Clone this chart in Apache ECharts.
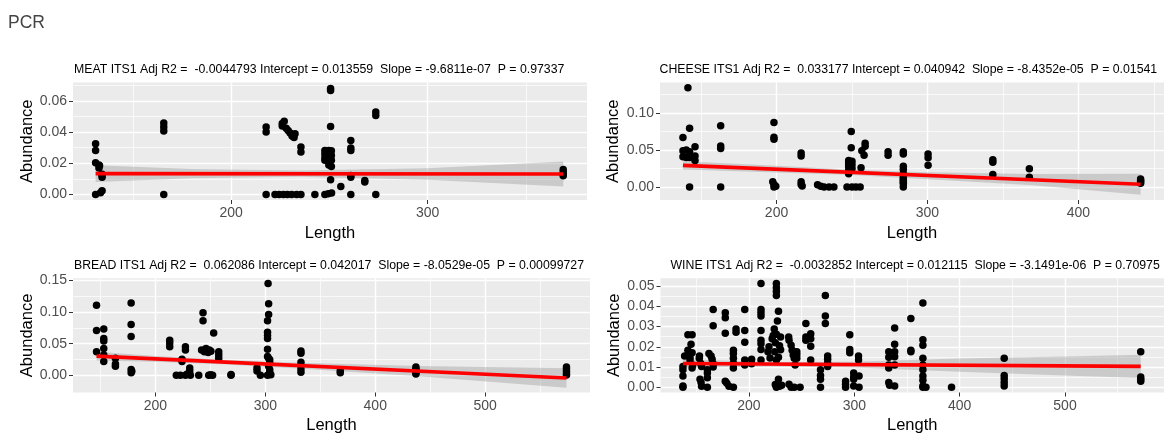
<!DOCTYPE html>
<html><head><meta charset="utf-8">
<script src="https://cdn.jsdelivr.net/npm/echarts@6/dist/echarts.min.js"></script>
<style>html,body{margin:0;padding:0;background:#fff}#c{width:1164px;height:435px}</style>
</head><body><div id="c"></div>
<script>
const FONT = '"Liberation Sans", Arial, Helvetica, sans-serif';
const pageTitle = 'PCR';
const xName = 'Length';
const yName = 'Abundance';

// ---------- MEAT ----------
const meatTitle = 'MEAT ITS1 Adj R2 =  -0.0044793 Intercept = 0.013559  Slope = -9.6811e-07  P = 0.97337';
const meatPoints = [
  [131,0.0325],[131,0.0283],[131,0.0203],[131,0.0],
  [132.7,0.019],[132.7,0.017],[133,0.0185],
  [134.3,0.013],[134.3,0.011],[134.3,0.0125],[134.3,0.0025],[133.5,0.0012],
  [165.7,0.0458],[165.7,0.0433],[165.7,0.0407],[165.7,0.0],
  [217.8,0.0433],[217.8,0.040],[217.8,0.0],
  [226,0.0455],[226,0.0440],[227,0.047],[228,0.0425],[229,0.041],[230,0.0395],[231,0.0375],[232,0.0365],[232.5,0.039],
  [222.3,0],[224.4,0],[226.6,0],[228.6,0],[230.8,0],[233.3,0],[235.5,0],
  [235.5,0.0304],[235.5,0.0272],
  [242.6,0],
  [247.7,0.0283],[247.7,0.026],[247.7,0.0235],[247.7,0.022],
  [249.7,0.0283],[249.7,0.026],[249.7,0.024],[249.7,0.021],[249.7,0.019],
  [251,0.028],[251,0.025],[251,0.022],[251,0.018],
  [250.6,0.0680],[250.6,0.0667],[250.6,0.0436],[250.6,0.0095],
  [247.7,0],[249.4,0.0005],[251.1,0.001],
  [255.8,0.0051],
  [260.9,0.0347],[260.9,0.0298],[260.9,0.0283],[260.9,0.0122],[260.9,0.011],[260.9,0],
  [268,0.009],[268,0.008],
  [273.6,0.0529],[273.6,0.0507],[273.6,0],
  [369,0.016],[369,0.0145],[369,0.013],[369,0.012]
];
const meatFitX = [131, 369];
const meatFitY = [0.0134, 0.0132];
const meatBandX = [131, 180, 235, 300, 369];
const meatBandLo = [0.0080, 0.0104, 0.0114, 0.0095, 0.0052];
const meatBandHi = [0.0188, 0.0164, 0.0154, 0.0169, 0.0212];
const meatXRange = [119.5, 381.1];
const meatYRange = [-0.0035, 0.0718];
const meatXTicks = [200, 300];
const meatXMinor = [150, 250, 350];
const meatYTicks = [0, 0.02, 0.04, 0.06];
const meatYMinor = [0.01, 0.03, 0.05, 0.07];

// ---------- CHEESE ----------
const cheeseTitle = 'CHEESE ITS1 Adj R2 =  0.033177 Intercept = 0.040942  Slope = -8.4352e-05  P = 0.01541';
const cheesePoints = [
  [141.3,0.134],
  [138,0.0668],[138,0.049],[138,0.041],
  [140.2,0.050],[140.2,0.040],
  [142.4,0.0795],[142.4,0.0477],[142.4,0.040],[142.4,0],
  [146,0.0545],[146,0.042],[146,0.036],
  [163,0.0827],[163,0.0555],[163,0.052],[163,0],
  [198.3,0.0873],[198.3,0.0673],[198.3,0.0645],[197.5,0.007],[198.3,0.0036],[198.3,0],[199.5,0.001],
  [216.3,0.046],[216.3,0.042],[216.3,0.007],[216.3,0.0036],[217,0.0015],
  [227.2,0.003],[229.3,0.001],[231.5,0],[234.8,0],[238,0],
  [249.5,0.075],[249.5,0.053],
  [247.8,0.036],[247.8,0.033],[247.8,0.030],[247.8,0.027],[247.8,0.022],[247.8,0.018],
  [250,0.035],[250,0.030],[250,0.025],
  [246.7,0],[250,0],[252.6,0],[255.4,0],
  [256,0.026],
  [258.7,0.059],[258.7,0.055],[256.5,0.049],[258,0.043],
  [273.9,0.0477],[273.9,0.043],
  [284,0.0477],[284,0.0445],[284,0.028],[284,0.0236],[284,0.018],[284,0.0136],[284,0.009],[284,0.0045],[284,0],[284,0.0065],[284,0.011],
  [300.4,0.0445],[300.4,0.0395],[300.4,0.0295],
  [343.3,0.037],[343.3,0.0335],[343.3,0.017],
  [367.5,0.0248],[367.5,0.0133],
  [441.2,0.011],[441.2,0.009],[441.2,0.007],[441.2,0.005]
];
const cheeseFitX = [138, 441.2];
const cheeseFitY = [0.0293, 0.0037];
const cheeseBandX = [138, 200, 250, 300, 370, 441.2];
const cheeseBandLo = [0.0236, 0.0196, 0.0163, 0.0105, 0.0025, -0.0105];
const cheeseBandHi = [0.0350, 0.0286, 0.0235, 0.0200, 0.0175, 0.0180];
const cheeseXRange = [122.8, 456.7];
const cheeseYRange = [-0.0175, 0.1412];
const cheeseXTicks = [200, 300, 400];
const cheeseXMinor = [150, 250, 350, 450];
const cheeseYTicks = [0, 0.05, 0.10];
const cheeseYMinor = [0.025, 0.075, 0.125];

// ---------- BREAD ----------
const breadTitle = 'BREAD ITS1 Adj R2 =  0.062086 Intercept = 0.042017  Slope = -8.0529e-05  P = 0.00099727';
const breadPoints = [
  [146.4,0.1106],[146.4,0.0707],[146.4,0.0374],
  [153,0.0732],[153,0.058],[153,0.0543],[153,0.0425],[153,0.032],[153,0.022],
  [163.6,0.027],[163.6,0.018],[163.6,0.0143],
  [177.9,0.1142],[177.9,0.080],[177.9,0.0614],[177.9,0.0092],[177.9,0.004],[178.5,0.0065],
  [213,0.0553],[213,0.051],[213,0.045],
  [219,0],[222.7,0],[227.3,0],[231.8,0],[229,0.002],
  [224.2,0.0256],[224.2,0.022],
  [227.3,0.045],[227.3,0.040],
  [231.2,0.0118],[231.2,0.0067],
  [239.4,0],
  [243.3,0.0988],[243.3,0.086],
  [242,0.040],[244.5,0.0374],[246,0.0425],[248,0.036],[249,0.040],[250.5,0.038],
  [253,0.0666],
  [248.5,0],[252,0],[250.2,0.001],
  [257.6,0.0374],[257.6,0.032],[257.6,0.027],
  [268.8,0.0015],[268.8,0],
  [292.4,0.0118],[292.4,0.0067],
  [295.5,0],
  [302.5,0.145],[303,0.113],[303,0.096],[302,0.086],[302,0.068],[302,0.063],[302,0.058],[302,0.041],[302,0.0297],[303,0.027],[304,0.0246],[304,0.0195],[303,0.0143],[304,0.009],[304,0.004],[302,0],[305,0.001],
  [332.4,0.0384],[332.4,0.035],[332.4,0.0205],[332.4,0.0102],[332.4,0.005],
  [368.2,0.0067],[368.2,0.004],
  [437,0.013],[437,0.010],[437,0.008],[437,0.006],[437,0.004],[437,0.002],
  [574,0.013],[574,0.010],[574,0.006],[574,0.002],[574,0.0005]
];
const breadFitX = [146.4, 574];
const breadFitY = [0.0303, -0.0042];
const breadBandX = [146.4, 200, 260, 330, 440, 574];
const breadBandLo = [0.0233, 0.0214, 0.0176, 0.0109, -0.0014, -0.0197];
const breadBandHi = [0.0373, 0.0304, 0.0246, 0.0199, 0.0146, 0.0113];
const breadXRange = [125, 595.4];
const breadYRange = [-0.027, 0.153];
const breadXTicks = [200, 300, 400, 500];
const breadXMinor = [150, 250, 350, 450, 550];
const breadYTicks = [0, 0.05, 0.10, 0.15];
const breadYMinor = [0.025, 0.075, 0.125];

// ---------- WINE ----------
const wineTitle = 'WINE ITS1 Adj R2 =  -0.0032852 Intercept = 0.012115  Slope = -3.1491e-06  P = 0.70975';
const winePoints = [
  [137.3,0.0103],[137.3,0.0087],[137.3,0.0055],[137.3,0.0006],[137.3,0],[138.9,0.0154],
  [142,0.0259],[146,0.0259],[145,0.0212],[142,0.0183],[146,0.017],[144,0.0148],[144,0.0135],[146.5,0.011],[146,0.0095],
  [152.8,0.0143],[153,0.0154],[154,0.0119],[155,0.0103],[153.5,0.0039],[154.5,0.0023],[155,0.0005],
  [160.5,0.0087],[160.5,0.007],[160.5,0.0047],[160.5,0],
  [162,0.0167],[164,0.0154],[165,0.0138],[166,0.0116],[166,0.010],
  [166,0.0384],[166,0.0304],
  [177.5,0.0368],[177.5,0.0344],[177.5,0.0267],
  [177.5,0.003],[179,0.002],[181,0.0005],
  [185.2,0.0183],[185.2,0.0167],[185.2,0.0143],[185.2,0.0119],[185.2,0.0095],[185.2,0],
  [187.7,0.0288],[187.7,0.0272],
  [196,0.0384],[196,0.028],[196,0.0223],[196,0.0135],[196,0.011],
  [202.5,0.0138],[202.5,0.0116],
  [211.4,0.0513],[211.4,0.0384],[211.4,0.0368],[211.4,0.0352],[211.4,0.028],[211.4,0.0232],[211.4,0.0215],[211.4,0.0186],[211.4,0.0135],
  [218,0.0175],[219,0.020],[220,0.0145],[222,0.024],[223,0.0256],[224,0.0288],[224.5,0.0175],[225,0.022],[226,0.0262],[227,0.0328],[228,0.0376],[226,0.0135],[228,0.0148],[229,0.0205],[230,0.0248],[230,0.0185],
  [226,0.0513],[226,0.0492],[226,0.0473],[226,0.0453],
  [225,0.0014],[226,0],[228,0.004],[229,0.0005],[231,0.001],
  [237.7,0.0248],[238,0.0232],[240,0.0207],[241,0.0183],[242,0.0159],[243,0.0143],[243.8,0.011],[238,0.0015],[240,0],[243,0],
  [245.4,0.0175],[245.4,0.016],[245.4,0.0143],
  [248.5,0],
  [254,0.0315],[254,0.0248],[254,0.0232],
  [258.6,0.0264],[258.6,0.024],[258.6,0.0203],[258.6,0.0135],
  [267.9,0.0087],[267.9,0.0058],[267.9,0.0039],[267.9,0],
  [272.5,0.0453],[272.5,0.0352],[272.5,0.0315],
  [274.7,0.0154],[274.7,0.0138],[274.7,0.0119],[274.7,0.0103],
  [291.7,0.003],[291.7,0.0014],[291.7,0],
  [295.7,0.026],[295.7,0.0186],[295.7,0.017],
  [299.4,0.007],[299.4,0.0051],[299.4,0.0039],[299.4,0.0006],
  [304,0.0154],[304,0.0135],[304.5,0.0055],[304.5,0],
  [332.7,0.0175],[332.7,0.0148],[332.7,0.011],[332.7,0.0095],[332.7,0.0023],[333.5,0.001],
  [338.3,0.0293],[338.3,0.0212],[338.3,0.0175],[338.3,0.0151],[338.3,0.011],[338.3,0.0006],
  [353.7,0.034],[353.7,0.0183],[353.7,0.0175],
  [365.1,0.0416],[365.1,0.0235],[365.1,0.0207],[365.1,0.0143],[365.1,0.011],[365.1,0.0087],[365.1,0.0055],[365.1,0.0035],[365.1,0.0006],[365.1,0],[368,0],
  [392.3,0],
  [442.3,0.0143],[442.3,0.0058],[442.3,0.0042],[442.3,0.0023],[442.3,0.0006],
  [571.9,0.0175],[571.9,0.0051],[571.9,0.0039],[571.9,0.003]
];
const wineFitX = [137.3, 571.9];
const wineFitY = [0.0117, 0.0103];
const wineBandX = [137.3, 220, 300, 400, 500, 571.9];
const wineBandLo = [0.0096, 0.0103, 0.0098, 0.0076, 0.0058, 0.0046];
const wineBandHi = [0.0138, 0.0125, 0.0126, 0.0142, 0.0152, 0.0160];
const wineXRange = [116, 594];
const wineYRange = [-0.0026, 0.0539];
const wineXTicks = [200, 300, 400, 500];
const wineXMinor = [150, 250, 350, 450, 550];
const wineYTicks = [0, 0.01, 0.02, 0.03, 0.04, 0.05];
const wineYMinor = [0.005, 0.015, 0.025, 0.035, 0.045];

// ---------- layout ----------
const panels = [
  {title: meatTitle, pts: meatPoints, fx: meatFitX, fy: meatFitY, bx: meatBandX, lo: meatBandLo, hi: meatBandHi,
   xr: meatXRange, yr: meatYRange, xt: meatXTicks, xm: meatXMinor, yt: meatYTicks, ym: meatYMinor,
   grid: {left: 73, top: 82.5, width: 514, height: 117.5}, tl: 74, tt: 63.5, yGap: 36},
  {title: cheeseTitle, pts: cheesePoints, fx: cheeseFitX, fy: cheeseFitY, bx: cheeseBandX, lo: cheeseBandLo, hi: cheeseBandHi,
   xr: cheeseXRange, yr: cheeseYRange, xt: cheeseXTicks, xm: cheeseXMinor, yt: cheeseYTicks, ym: cheeseYMinor,
   grid: {left: 660, top: 82.5, width: 512, height: 117.5}, tl: 659.5, tt: 63.5, yGap: 38},
  {title: breadTitle, pts: breadPoints, fx: breadFitX, fy: breadFitY, bx: breadBandX, lo: breadBandLo, hi: breadBandHi,
   xr: breadXRange, yr: breadYRange, xt: breadXTicks, xm: breadXMinor, yt: breadYTicks, ym: breadYMinor,
   grid: {left: 73, top: 278.3, width: 517, height: 117.2}, tl: 74, tt: 259.5, yGap: 36},
  {title: wineTitle, pts: winePoints, fx: wineFitX, fy: wineFitY, bx: wineBandX, lo: wineBandLo, hi: wineBandHi,
   xr: wineXRange, yr: wineYRange, xt: wineXTicks, xm: wineXMinor, yt: wineYTicks, ym: wineYMinor,
   grid: {left: 660.5, top: 278.2, width: 514, height: 117.2}, tl: 670.5, tt: 259.5, yGap: 38}
];

const grids = [], xAxes = [], yAxes = [], series = [];
const titles = [{text: pageTitle, left: 8, top: 14, padding: 0,
  textStyle: {fontSize: 17.5, fontWeight: 'normal', color: '#444', fontFamily: FONT}}];

panels.forEach((p, i) => {
  grids.push(Object.assign({show: true, backgroundColor: '#EBEBEB', borderWidth: 0}, p.grid));
  titles.push({text: p.title, left: p.tl, top: p.tt, padding: 0,
    textStyle: {fontSize: 12.3, fontWeight: 'normal', color: '#000', fontFamily: FONT}});
  xAxes.push({
    type: 'value', gridIndex: i, min: p.xr[0], max: p.xr[1],
    name: xName, nameLocation: 'middle', nameGap: 24.5,
    nameTextStyle: {color: '#000', fontSize: 16.5, fontFamily: FONT},
    axisLine: {show: false, onZero: false},
    axisTick: {show: true, length: 4, lineStyle: {color: '#333', width: 1}, customValues: p.xt},
    axisLabel: {customValues: p.xt, color: '#4D4D4D', fontSize: 14, margin: 6.5, fontFamily: FONT},
    splitLine: {show: true, lineStyle: {color: '#FFFFFF', width: 1.4}}
  });
  xAxes.push({
    type: 'value', gridIndex: i, min: p.xr[0], max: p.xr[1],
    axisLine: {show: false, onZero: false},
    axisTick: {show: false, customValues: p.xm},
    axisLabel: {show: false},
    splitLine: {show: true, lineStyle: {color: '#FFFFFF', width: 0.7}}
  });
  yAxes.push({
    type: 'value', gridIndex: i, min: p.yr[0], max: p.yr[1],
    name: yName, nameLocation: 'middle', nameGap: p.yGap,
    nameTextStyle: {color: '#000', fontSize: 16.5, fontFamily: FONT},
    axisLine: {show: false, onZero: false},
    axisTick: {show: true, length: 4, lineStyle: {color: '#333', width: 1}, customValues: p.yt},
    axisLabel: {customValues: p.yt, formatter: v => Number(v).toFixed(2), color: '#4D4D4D', fontSize: 14, margin: 6, fontFamily: FONT},
    splitLine: {show: true, lineStyle: {color: '#FFFFFF', width: 1.4}}
  });
  yAxes.push({
    type: 'value', gridIndex: i, min: p.yr[0], max: p.yr[1],
    axisLine: {show: false, onZero: false},
    axisTick: {show: false, customValues: p.ym},
    axisLabel: {show: false},
    splitLine: {show: true, lineStyle: {color: '#FFFFFF', width: 0.7}}
  });
  const bx = p.bx, lo = p.lo, hi = p.hi;
  series.push({
    type: 'custom', xAxisIndex: 2 * i, yAxisIndex: 2 * i, z: 2, silent: true,
    data: [[bx[0], lo[0]]],
    renderItem: (params, api) => {
      const pts = [];
      for (let k = 0; k < bx.length; k++) pts.push(api.coord([bx[k], hi[k]]));
      for (let k = bx.length - 1; k >= 0; k--) pts.push(api.coord([bx[k], lo[k]]));
      return {type: 'polygon', shape: {points: pts}, style: {fill: 'rgba(153,153,153,0.4)'}};
    }
  });
  series.push({
    type: 'scatter', xAxisIndex: 2 * i, yAxisIndex: 2 * i, z: 3, silent: true,
    data: p.pts, symbolSize: 7.5, itemStyle: {color: '#000', opacity: 1}
  });
  series.push({
    type: 'line', xAxisIndex: 2 * i, yAxisIndex: 2 * i, z: 4, silent: true,
    data: p.fx.map((x, k) => [x, p.fy[k]]), showSymbol: false, symbol: 'none',
    lineStyle: {color: '#FF0000', width: 3.6}
  });
});

const chart = echarts.init(document.getElementById('c'), null, {renderer: 'canvas'});
chart.setOption({
  animation: false,
  backgroundColor: '#FFFFFF',
  title: titles,
  grid: grids,
  xAxis: xAxes,
  yAxis: yAxes,
  series: series
});
</script>
</body></html>
